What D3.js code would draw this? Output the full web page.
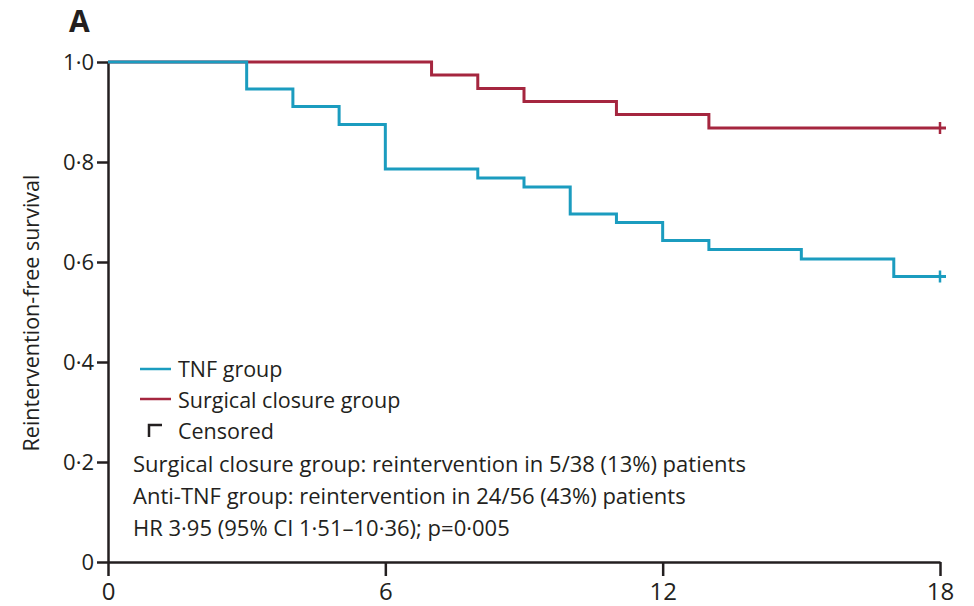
<!DOCTYPE html>
<html><head><meta charset="utf-8">
<script src="https://cdn.jsdelivr.net/npm/d3@7"></script>
<style>body{margin:0;background:#fff}svg{display:block}text{font-family:"Open Sans",sans-serif;fill:#231f20}</style>
</head><body><svg id="c" width="974" height="606"></svg>
<script>
// Data
const xTicks = [0, 6, 12, 18];
const yTicks = [0, 0.2, 0.4, 0.6, 0.8, 1.0];
const yTickLabels = ["0", "0·2", "0·4", "0·6", "0·8", "1·0"];
const tnfTimes = [0, 3, 4, 5, 6, 8, 9, 10, 11, 12, 13, 15, 17, 18];
const tnfSurv  = [1, 0.946, 0.911, 0.875, 0.786, 0.768, 0.750, 0.696, 0.679, 0.643, 0.625, 0.606, 0.571, 0.571];
const surgTimes = [0, 7, 8, 9, 11, 13, 18];
const surgSurv  = [1, 0.974, 0.947, 0.921, 0.895, 0.868, 0.868];
const censorTNF = [18];
const censorSurg = [18];
const legendLabels = ["TNF group", "Surgical closure group", "Censored"];
const statLines = [
  "Surgical closure group: reintervention in 5/38 (13%) patients",
  "Anti-TNF group: reintervention in 24/56 (43%) patients",
  "HR 3·95 (95% CI 1·51–10·36); p=0·005"
];
const colTNF = "#1b9cbf", colSurg = "#a5263f", ink = "#231f20";

const svg = d3.select("#c");
const x = d3.scaleLinear().domain([0, 18]).range([108, 940]);
const y = d3.scaleLinear().domain([0, 1]).range([562, 62]);

// axes
const xAxis = d3.axisBottom(x).tickValues(xTicks).tickSize(14).tickSizeOuter(0);
const gx = svg.append("g").attr("transform", "translate(0,562)").call(xAxis);
gx.select(".domain").attr("stroke", ink).attr("stroke-width", 2.5);
gx.selectAll(".tick line").attr("stroke", ink).attr("stroke-width", 2.5);
gx.selectAll(".tick text").attr("dy", 0).attr("y", 38).style("font-size", "24px")
  .style("font-family", "'Liberation Sans Narrow','Open Sans',sans-serif").attr("fill", ink);

const yAxis = d3.axisLeft(y).tickValues(yTicks).tickFormat((d, i) => yTickLabels[i]).tickSize(11).tickSizeOuter(0);
const gy = svg.append("g").attr("transform", "translate(108,0)").call(yAxis);
gy.select(".domain").attr("stroke", ink).attr("stroke-width", 2.5);
gy.selectAll(".tick line").attr("stroke", ink).attr("stroke-width", 2.5);
gy.selectAll(".tick text").attr("x", -14).style("font-size", "22px").attr("fill", ink);

// curves
const line = d3.line().x(d => x(d[0])).y(d => y(d[1])).curve(d3.curveStepAfter);
function drawCurve(times, surv, col, cens) {
  const pts = times.map((t, i) => [t, surv[i]]);
  svg.append("path").datum(pts).attr("d", line).attr("fill", "none")
     .attr("stroke", col).attr("stroke-width", 3);
  const last = surv[surv.length - 1];
  cens.forEach(t => {
    svg.append("line").attr("x1", x(t)).attr("x2", x(t))
      .attr("y1", y(last) - 6).attr("y2", y(last) + 6).attr("stroke", col).attr("stroke-width", 2.5);
    svg.append("line").attr("x1", x(t)).attr("x2", x(t) + 6)
      .attr("y1", y(last)).attr("y2", y(last)).attr("stroke", col).attr("stroke-width", 3);
  });
}
drawCurve(surgTimes, surgSurv, colSurg, censorSurg);
drawCurve(tnfTimes, tnfSurv, colTNF, censorTNF);

// panel letter
svg.append("text").attr("x", 69).attr("y", 32).text("A")
  .style("font-size", "30px").style("font-weight", "bold");

// y label
svg.append("text").attr("transform", "translate(39,313) rotate(-90)")
  .attr("text-anchor", "middle").style("font-size", "21.5px").text("Reintervention-free survival");

// legend
const lg = svg.append("g");
[[colTNF, 369], [colSurg, 399]].forEach(([c, yy]) => {
  lg.append("line").attr("x1", 140).attr("x2", 171).attr("y1", yy).attr("y2", yy)
    .attr("stroke", c).attr("stroke-width", 2.5);
});
lg.append("path").attr("d", "M149,437 V425 H162").attr("fill", "none").attr("stroke", ink).attr("stroke-width", 2.5);
legendLabels.forEach((t, i) => {
  lg.append("text").attr("x", 178).attr("y", 377 + i * 31).style("font-size", "21.5px").text(t);
});
statLines.forEach((t, i) => {
  svg.append("text").attr("x", 133).attr("y", 472 + i * 32).style("font-size", "22px").text(t);
});
</script></body></html>
